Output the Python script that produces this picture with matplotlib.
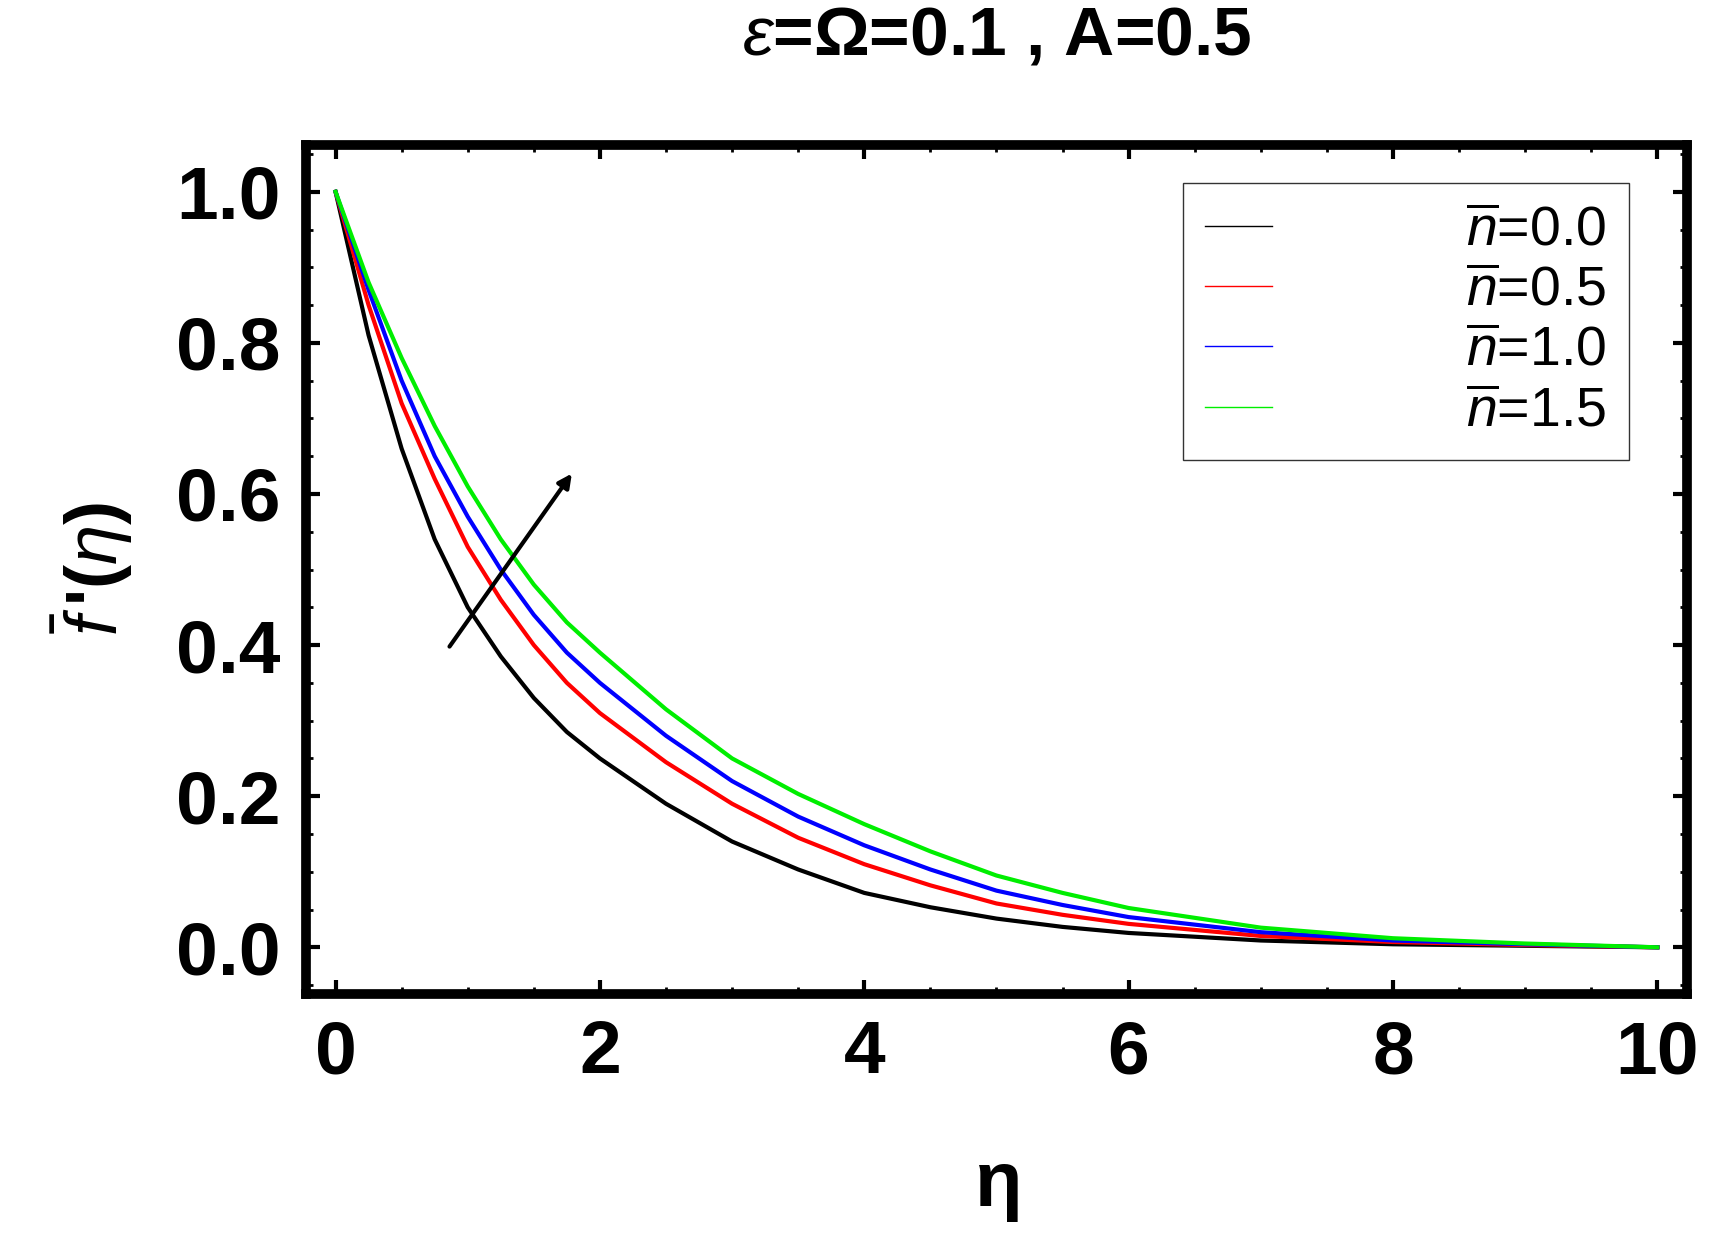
import numpy as np
import matplotlib.pyplot as plt
from matplotlib.ticker import MultipleLocator

plt.rcParams['font.family'] = ['Liberation Sans', 'DejaVu Sans']
plt.rcParams['mathtext.fontset'] = 'custom'
plt.rcParams['mathtext.rm'] = 'Liberation Sans'
plt.rcParams['mathtext.it'] = 'Liberation Sans:italic'
plt.rcParams['mathtext.bf'] = 'Liberation Sans:bold'

eta = [0, 0.25, 0.5, 0.75, 1, 1.25, 1.5, 1.75, 2, 2.5, 3, 3.5, 4, 4.5, 5, 5.5, 6, 7, 8, 9, 10]
f_n00 = [1.0, 0.81, 0.66, 0.54, 0.45, 0.385, 0.33, 0.285, 0.25, 0.19, 0.14, 0.103, 0.072, 0.053,
         0.038, 0.027, 0.019, 0.009, 0.004, 0.002, 0.0]
f_n05 = [1.0, 0.85, 0.72, 0.62, 0.53, 0.46, 0.40, 0.35, 0.31, 0.245, 0.19, 0.145, 0.11, 0.082,
         0.058, 0.043, 0.031, 0.015, 0.007, 0.003, 0.0]
f_n10 = [1.0, 0.87, 0.75, 0.65, 0.57, 0.50, 0.44, 0.39, 0.35, 0.28, 0.22, 0.173, 0.135, 0.103,
         0.075, 0.056, 0.04, 0.02, 0.009, 0.004, 0.0]
f_n15 = [1.0, 0.88, 0.78, 0.69, 0.61, 0.54, 0.48, 0.43, 0.39, 0.315, 0.25, 0.203, 0.163, 0.127,
         0.095, 0.072, 0.052, 0.026, 0.012, 0.005, 0.0]
labels = [r'$\overline{n}$=0.0', r'$\overline{n}$=0.5', r'$\overline{n}$=1.0', r'$\overline{n}$=1.5']
colors = ['black', 'red', 'blue', '#00ee00']

fig = plt.figure(figsize=(17.18, 12.6), dpi=100)
ax = fig.add_axes([0.178, 0.211, 0.804, 0.674])
for y, lab, c in zip([f_n00, f_n05, f_n10, f_n15], labels, colors):
    ax.plot(eta, y, color=c, lw=3, label=lab, solid_joinstyle='round')

ax.set_xlim(-0.225, 10.225)
ax.set_ylim(-0.062, 1.062)
ax.xaxis.set_major_locator(MultipleLocator(2))
ax.xaxis.set_minor_locator(MultipleLocator(0.5))
ax.yaxis.set_major_locator(MultipleLocator(0.2))
ax.yaxis.set_minor_locator(MultipleLocator(0.05))
ax.tick_params(which='both', direction='in', top=True, right=True)
ax.tick_params(which='major', length=10, width=3, labelsize=54, pad=18)
ax.tick_params(which='minor', length=5, width=2)
for lab in ax.get_xticklabels() + ax.get_yticklabels():
    lab.set_fontweight('bold')
for s in ax.spines.values():
    s.set_linewidth(7)

ax.annotate('', xy=(1.8, 0.63), xytext=(0.85, 0.395),
            arrowprops=dict(arrowstyle='-|>', color='black', lw=3, mutation_scale=20))

ax.set_xlabel(r'$\mathbf{\eta}$', fontsize=56, fontweight='bold', labelpad=45)
ax.set_ylabel(r"$\bar{f}\,$'($\eta$)", fontsize=52, fontweight='bold', labelpad=30)
ax.set_title(r'$\epsilon$=Ω=0.1 , A=0.5', fontsize=50, fontweight='bold', pad=65)

leg = ax.legend(loc='upper right', fontsize=40, frameon=True, fancybox=False,
                edgecolor='black', handlelength=1.2, handletextpad=3.5,
                labelspacing=0.15, borderpad=0.4, bbox_to_anchor=(0.978, 0.988))
leg.get_frame().set_linewidth(1)
for h in leg.get_lines():
    h.set_linewidth(1)

fig.savefig('out.png', dpi=100)
